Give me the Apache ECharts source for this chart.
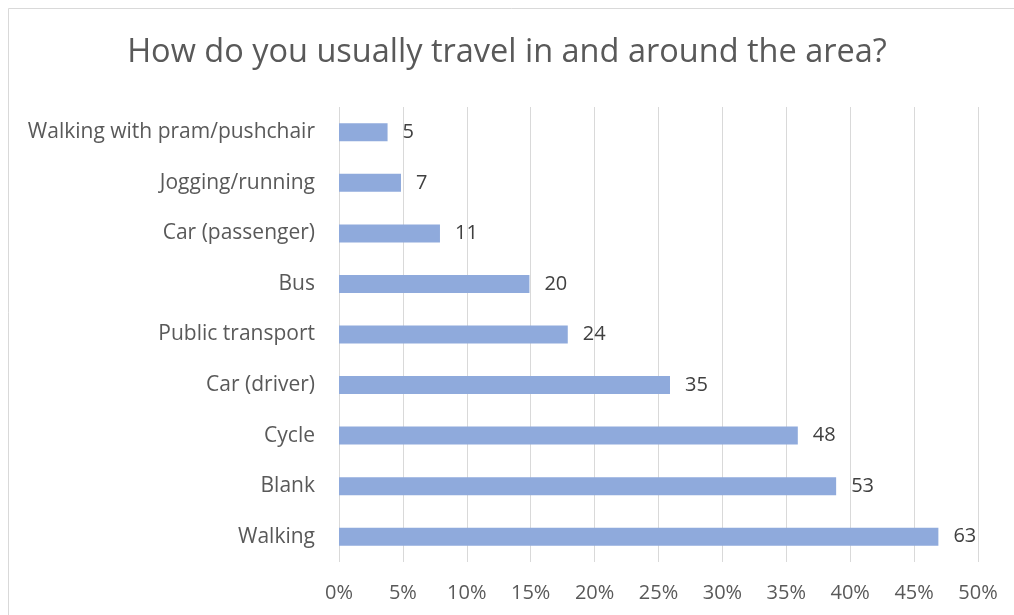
<!DOCTYPE html>
<html>
<head>
<meta charset="utf-8">
<script src="https://cdn.jsdelivr.net/npm/echarts@6/dist/echarts.min.js"></script>
<style>html,body{margin:0;padding:0;background:#fff;}#c{width:1014px;height:615px;}</style>
</head>
<body>
<div id="c"></div>
<script>
var categories = ["Walking", "Blank", "Cycle", "Car (driver)", "Public transport", "Bus", "Car (passenger)", "Jogging/running", "Walking with pram/pushchair"];
var percents = [46.9, 38.9, 35.9, 25.9, 17.9, 14.9, 7.9, 4.85, 3.8];
var counts = [63, 53, 48, 35, 24, 20, 11, 7, 5];
var tickLabels = ["0%", "5%", "10%", "15%", "20%", "25%", "30%", "35%", "40%", "45%", "50%"];

var chart = echarts.init(document.getElementById('c'));
var font = "'Open Sans', 'Noto Sans', sans-serif";
chart.setOption({
  animation: false,
  backgroundColor: '#fff',
  title: {
    text: 'How do you usually travel in and around the area?',
    left: 'center', top: 31,
    textStyle: { fontFamily: font, fontSize: 32.5, fontWeight: 'normal', color: '#595959' }
  },
  graphic: [{
    type: 'rect', shape: { x: 8.5, y: 8.5, width: 1100, height: 700 },
    style: { fill: 'none', stroke: '#d9d9d9', lineWidth: 1 }, silent: true
  }],
  grid: { left: 339, right: 36, top: 107, bottom: 53 },
  xAxis: {
    type: 'value', min: 0, max: 50, interval: 5,
    axisLine: { show: false }, axisTick: { show: false },
    splitLine: { lineStyle: { color: '#d9d9d9', width: 1 } },
    axisLabel: {
      formatter: function (v) { return tickLabels[Math.round(v / 5)]; },
      fontFamily: font, fontSize: 20, color: '#595959', margin: 21
    }
  },
  yAxis: {
    type: 'category', data: categories,
    axisLine: { show: false }, axisTick: { show: false },
    axisLabel: { fontFamily: font, fontSize: 21, color: '#595959', margin: 24 }
  },
  series: [{
    type: 'bar', data: percents, barWidth: 18,
    itemStyle: { color: '#8FAADC' },
    label: {
      show: true, position: 'right', distance: 15,
      formatter: function (p) { return counts[p.dataIndex]; },
      fontFamily: font, fontSize: 20, color: '#404040'
    }
  }]
});
</script>
</body>
</html>
